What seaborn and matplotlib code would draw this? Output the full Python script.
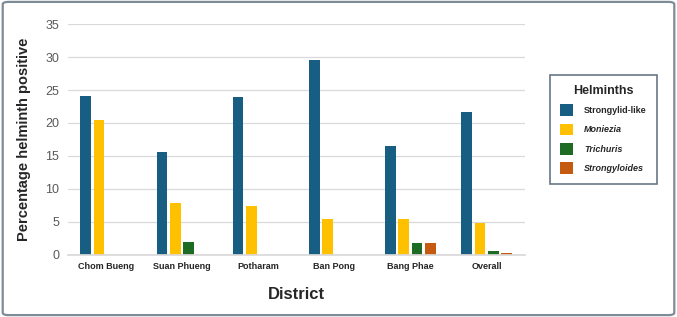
import seaborn as sns
import matplotlib.pyplot as plt
import pandas as pd
from matplotlib.patches import FancyBboxPatch

districts = ["Chom Bueng", "Suan Phueng", "Potharam", "Ban Pong", "Bang Phae", "Overall"]
helminths = ["Strongylid-like", "Moniezia", "Trichuris", "Strongyloides"]

strongylid = [24.1, 15.6, 24.0, 29.6, 16.5, 21.7]
moniezia = [20.4, 7.8, 7.4, 5.5, 5.5, 4.8]
trichuris = [0, 1.9, 0, 0, 1.8, 0.6]
strongyloides = [0, 0, 0, 0, 1.8, 0.3]

colors = ["#175E82", "#FFC000", "#1E6B24", "#C55A11"]

rows = []
for name, vals in zip(helminths, [strongylid, moniezia, trichuris, strongyloides]):
    for d, v in zip(districts, vals):
        rows.append({"District": d, "Helminth": name, "Value": v})
df = pd.DataFrame(rows)

sns.set_theme(style="white")
plt.rcParams['font.family'] = ['Liberation Sans', 'DejaVu Sans']

fig = plt.figure(figsize=(6.77, 3.17), dpi=100)
ax = fig.add_axes([0.1, 0.196, 0.675, 0.728])

# gray frame around the whole picture
frame = FancyBboxPatch((0.004, 0.006), 0.992, 0.988, boxstyle="round,pad=0,rounding_size=0.008",
                       transform=fig.transFigure, fill=False, ec="#7F8C97", lw=1.6)
fig.patches.append(frame)

sns.barplot(data=df, x="District", y="Value", hue="Helminth", palette=colors,
            saturation=1, width=0.7, gap=0.2, linewidth=0, ax=ax)

ax.set_ylim(0, 35)
ax.set_yticks(range(0, 36, 5))
ax.yaxis.grid(True, color="#D9D9D9", lw=0.9)
ax.set_axisbelow(True)
for s in ["top", "right", "left"]:
    ax.spines[s].set_visible(False)
ax.spines["bottom"].set_color("#D9D9D9")
ax.tick_params(axis="y", labelsize=9, colors="#595959", length=0, pad=6)
ax.tick_params(axis="x", labelsize=6.5, length=0, pad=5)
for t in ax.get_xticklabels():
    t.set_fontweight("bold")
    t.set_color("#262626")

ax.set_xlabel("District", fontsize=12, fontweight="bold", labelpad=12)
ax.set_ylabel("Percentage helminth positive", fontsize=10.5, fontweight="bold", labelpad=10)

leg = ax.legend(title="Helminths", loc="upper left", bbox_to_anchor=(1.045, 0.8),
                frameon=True, fontsize=6.5, title_fontproperties={"weight": "bold", "size": 9},
                handlelength=1.5, handleheight=1.6, labelspacing=0.85, handletextpad=1.2,
                borderpad=1.1, fancybox=False, edgecolor="#44546A")
leg.get_frame().set_linewidth(1.2)
for i, t in enumerate(leg.get_texts()):
    t.set_fontweight("bold")
    if i > 0:
        t.set_fontstyle("italic")

fig.savefig("out.png", dpi=100)
